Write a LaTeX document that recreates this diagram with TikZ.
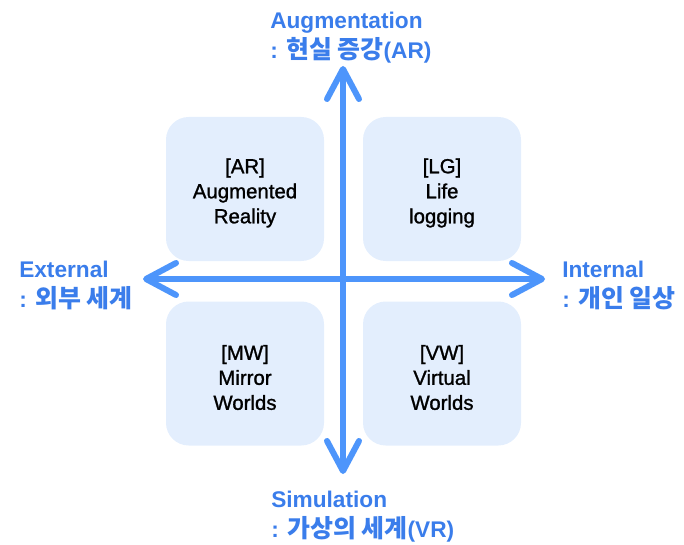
\documentclass[tikz,border=0pt]{standalone}
\usepackage{fontspec}
\setmainfont{Liberation Sans}
\newfontfamily\kr{Noto Sans CJK KR}[Scale=1.1]
\newfontfamily\boxfont{Liberation Sans}[FakeBold=1.2]
\usetikzlibrary{calc}
\definecolor{axisblue}{HTML}{4D95FB}
\definecolor{textblue}{HTML}{3A7DEB}
\definecolor{boxfill}{HTML}{E3EEFD}
\tikzset{
  quad/.style={fill=boxfill, rounded corners=17pt, minimum width=118.5pt, minimum height=108pt, inner sep=0pt},
  qtext/.style={align=center, font=\boxfont\fontsize{15.3}{18.75}\selectfont, text=black, inner sep=0pt},
  axis/.style={draw=axisblue, line width=4.5pt, line cap=round, line join=round},
  lbl/.style={align=left, anchor=west, text=textblue, inner sep=0pt, font=\fontsize{17}{22.5}\selectfont\bfseries}
}
\begin{document}
\begin{tikzpicture}[x=0.75pt,y=-0.75pt]
\useasboundingbox (0,0) rectangle (684,545);
% quadrant boxes
\node[quad] (ar) at (245,189) {};
\node[quad] (lg) at (442,189) {};
\node[quad] (mw) at (245,373.5) {};
\node[quad] (vw) at (442,373.5) {};
\node[qtext] (art) at ($(ar)+(0,4)$) {[AR]\\Augmented\\Reality};
\node[qtext] (lgt) at ($(lg)+(0,4)$) {[LG]\\Life\\logging};
\node[qtext] (mwt) at ($(mw)+(0,4)$) {[MW]\\Mirror\\Worlds};
\node[qtext] (vwt) at ($(vw)+(0,4)$) {[VW]\\Virtual\\Worlds};
% axis ends
\coordinate (T) at (343,69);
\coordinate (B) at (343,471);
\coordinate (L) at (146,279);
\coordinate (R) at (542,279);
\draw[axis, line cap=butt] ($(T)+(0,2)$) -- ($(B)+(0,-2)$);
\draw[axis, line cap=butt] ($(L)+(2,0)$) -- ($(R)+(-2,0)$);
\draw[axis] ($(T)+(-16,30)$) -- (T) -- ($(T)+(16,30)$);
\draw[axis] ($(B)+(-16,-30)$) -- (B) -- ($(B)+(16,-30)$);
\draw[axis] ($(L)+(30,-16)$) -- (L) -- ($(L)+(30,16)$);
\draw[axis] ($(R)+(-30,-16)$) -- (R) -- ($(R)+(-30,16)$);
% labels
\node[lbl] (top) at (270,38) {Augmentation\\: {\kr 현실 증강}(AR)};
\node[lbl] (bot) at (271,517) {Simulation\\: {\kr 가상의 세계}(VR)};
\node[lbl] (lft) at (19,285) {External\\: {\kr 외부 세계}};
\node[lbl] (rgt) at (562,285) {Internal\\: {\kr 개인 일상}};
\end{tikzpicture}
\end{document}
